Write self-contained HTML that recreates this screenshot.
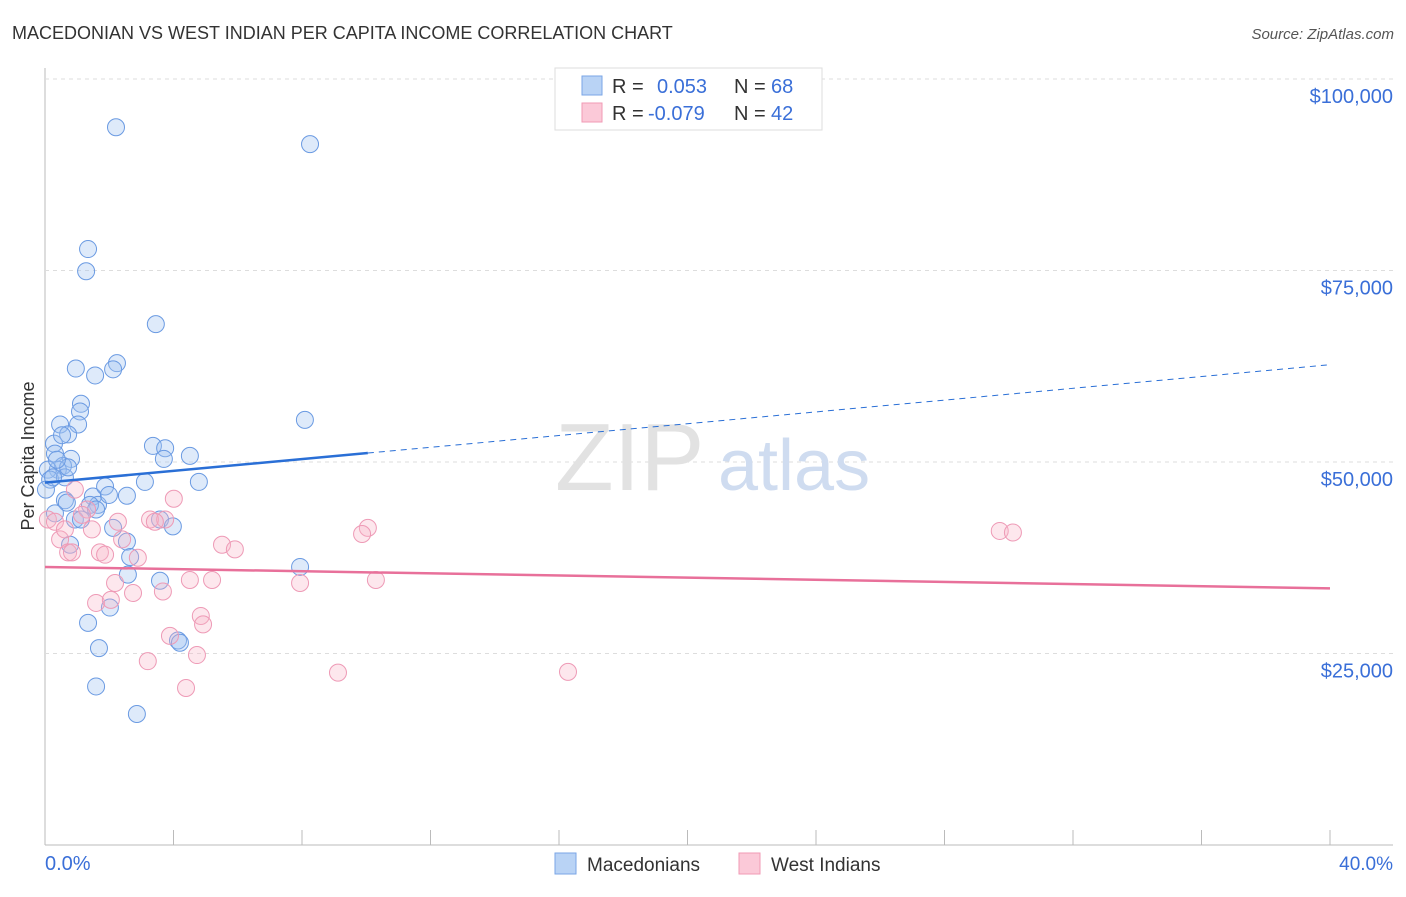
<!DOCTYPE html>
<html><head><meta charset="utf-8"><style>
body{margin:0;background:#fff;font-family:"Liberation Sans",sans-serif;}
svg text{font-family:"Liberation Sans",sans-serif;}
</style></head><body>
<svg id="chart" width="1406" height="892" xmlns="http://www.w3.org/2000/svg">
<text x="12" y="39" font-size="18" fill="#333">MACEDONIAN VS WEST INDIAN PER CAPITA INCOME CORRELATION CHART</text>
<text x="1394" y="39" font-size="15" fill="#555" text-anchor="end" font-style="italic">Source: ZipAtlas.com</text>
<text transform="translate(34,456) rotate(-90)" font-size="18" fill="#333" text-anchor="middle">Per Capita Income</text>
<g id="grid"></g>
<text x="555" y="490" font-size="96" fill="#e2e2e2" font-family="Liberation Serif">ZIP</text>
<text x="718" y="490" font-size="72" fill="#cfdcf0">atlas</text>
<g id="marks"></g>
<g>
<rect x="555" y="68" width="267" height="62" fill="#fff" stroke="#ddd"/>
<rect x="582" y="76" width="20" height="19" fill="#b9d3f5" stroke="#7aa6e6"/>
<rect x="582" y="103" width="20" height="19" fill="#fbc9d8" stroke="#f09ab5"/>
<text x="612" y="93" font-size="20" fill="#333">R =</text>
<text x="657" y="93" font-size="20" fill="#3a6fd8">0.053</text>
<text x="734" y="93" font-size="20" fill="#333">N =</text>
<text x="771" y="93" font-size="20" fill="#3a6fd8">68</text>
<text x="612" y="120" font-size="20" fill="#333">R =</text>
<text x="648" y="120" font-size="20" fill="#3a6fd8">-0.079</text>
<text x="734" y="120" font-size="20" fill="#333">N =</text>
<text x="771" y="120" font-size="20" fill="#3a6fd8">42</text>
</g>
<g>
<rect x="555" y="853" width="21" height="21" fill="#b9d3f5" stroke="#7aa6e6"/>
<text x="587" y="871" font-size="19" fill="#333">Macedonians</text>
<rect x="739" y="853" width="21" height="21" fill="#fbc9d8" stroke="#f09ab5"/>
<text x="771" y="871" font-size="19" fill="#333">West Indians</text>
</g>
</svg>
<script>
const yTicks=[25000,50000,75000,100000];
const yTickLabels=["$25,000","$50,000","$75,000","$100,000"];
const xTickLabels=["0.0%","40.0%"];
const blueX=[2.21,8.25,1.34,1.28,3.45,0.96,1.56,2.24,2.12,1.12,1.09,1.03,0.47,0.72,0.28,0.31,0.81,0.56,0.40,0.09,0.16,0.03,3.36,3.74,3.70,4.51,3.11,4.79,8.09,0.62,1.49,1.65,1.87,2.55,1.40,0.93,1.12,2.12,2.55,3.58,3.98,7.94,2.65,2.58,3.58,2.02,1.34,4.14,4.20,1.68,1.59,2.86,0.68,0.31,0.78,1.59,1.99,0.62,0.72,0.53,0.37,0.25];
const blueY=[93700,91500,77800,74900,68000,62200,61300,62900,62100,57600,56600,54900,54900,53600,52400,51100,50400,49500,49000,49000,47700,46400,52100,51800,50400,50800,47400,47400,55500,45000,45500,44400,46800,45600,44400,42500,42500,41400,39600,42500,41600,36300,37600,35300,34500,31000,29000,26700,26400,25700,20700,17100,44700,43300,39200,43800,45700,48000,49300,53500,50300,48000];
const pinkX=[0.09,0.31,0.47,0.62,0.93,0.72,0.84,1.31,1.46,1.71,1.87,2.27,2.40,3.27,3.74,4.01,2.89,2.74,2.18,1.59,2.05,3.67,4.51,5.20,5.51,5.91,4.85,4.92,3.89,3.20,4.73,4.39,7.94,9.12,10.05,9.87,10.30,16.28,29.72,30.13,3.42,1.15];
const pinkY=[42500,42200,39900,41200,46400,38200,38200,43800,41200,38200,37900,42200,39900,42500,42500,45200,37500,32900,34200,31600,32000,33100,34600,34600,39200,38600,29900,28800,27300,24000,24800,20500,34200,22500,41400,40600,34600,22600,41000,40800,42200,43100];
const blueTrend=[47300,62700];
const pinkTrend=[36300,33500];
const NS="http://www.w3.org/2000/svg";
const X=v=>45+v/40*1285;
const Y=v=>845-v/25000*191.5;
function mk(t,a,p){const e=document.createElementNS(NS,t);for(const k in a)e.setAttribute(k,a[k]);p.appendChild(e);return e;}
const g=document.getElementById('grid'),m=document.getElementById('marks');
const ax=mk('line',{x1:45,y1:68,x2:45,y2:845,stroke:'#bbb'},g);


const bx=mk('line',{x1:45,y1:845,x2:1393,y2:845,stroke:'#bbb'},g);


for(let i=0;i<=10;i++){const t=mk('line',{x1:X(i*4),y1:830,x2:X(i*4),y2:845,stroke:'#bbb'},g);

}
yTicks.forEach((v,i)=>{const l=mk('line',{x1:45,y1:Y(v),x2:1393,y2:Y(v),stroke:'#ddd','stroke-dasharray':'4,4'},g);


const t=mk('text',{x:1393,y:Y(v)+24,'font-size':20,fill:'#3a6fd8','text-anchor':'end'},g);t.textContent=yTickLabels[i];

});
const x0=mk('text',{x:45,y:870,'font-size':20,fill:'#3a6fd8'},g);x0.textContent=xTickLabels[0];


const x1=mk('text',{x:1393,y:870,'font-size':19,fill:'#3a6fd8','text-anchor':'end'},g);x1.textContent=xTickLabels[1];


blueX.forEach((x,i)=>{const c=mk('circle',{cx:X(x),cy:Y(blueY[i]),r:8.5,fill:'rgba(160,196,240,0.35)',stroke:'#6a9ae2','stroke-width':1},m);

});
pinkX.forEach((x,i)=>{const c=mk('circle',{cx:X(x),cy:Y(pinkY[i]),r:8.5,fill:'rgba(248,180,200,0.32)',stroke:'#ee9ab6','stroke-width':1},m);

});
const bY=x=>blueTrend[0]+(blueTrend[1]-blueTrend[0])*x/40;
const t1=mk('line',{x1:X(0),y1:Y(bY(0)),x2:X(10.05),y2:Y(bY(10.05)),stroke:'#2a6fd6','stroke-width':2.5},m);


const t2=mk('line',{x1:X(10.05),y1:Y(bY(10.05)),x2:X(40),y2:Y(bY(40)),stroke:'#2a6fd6','stroke-width':1,'stroke-dasharray':'6,5'},m);


const t3=mk('line',{x1:X(0),y1:Y(pinkTrend[0]),x2:X(40),y2:Y(pinkTrend[1]),stroke:'#e8709a','stroke-width':2.5},m);


</script>
</body></html>
